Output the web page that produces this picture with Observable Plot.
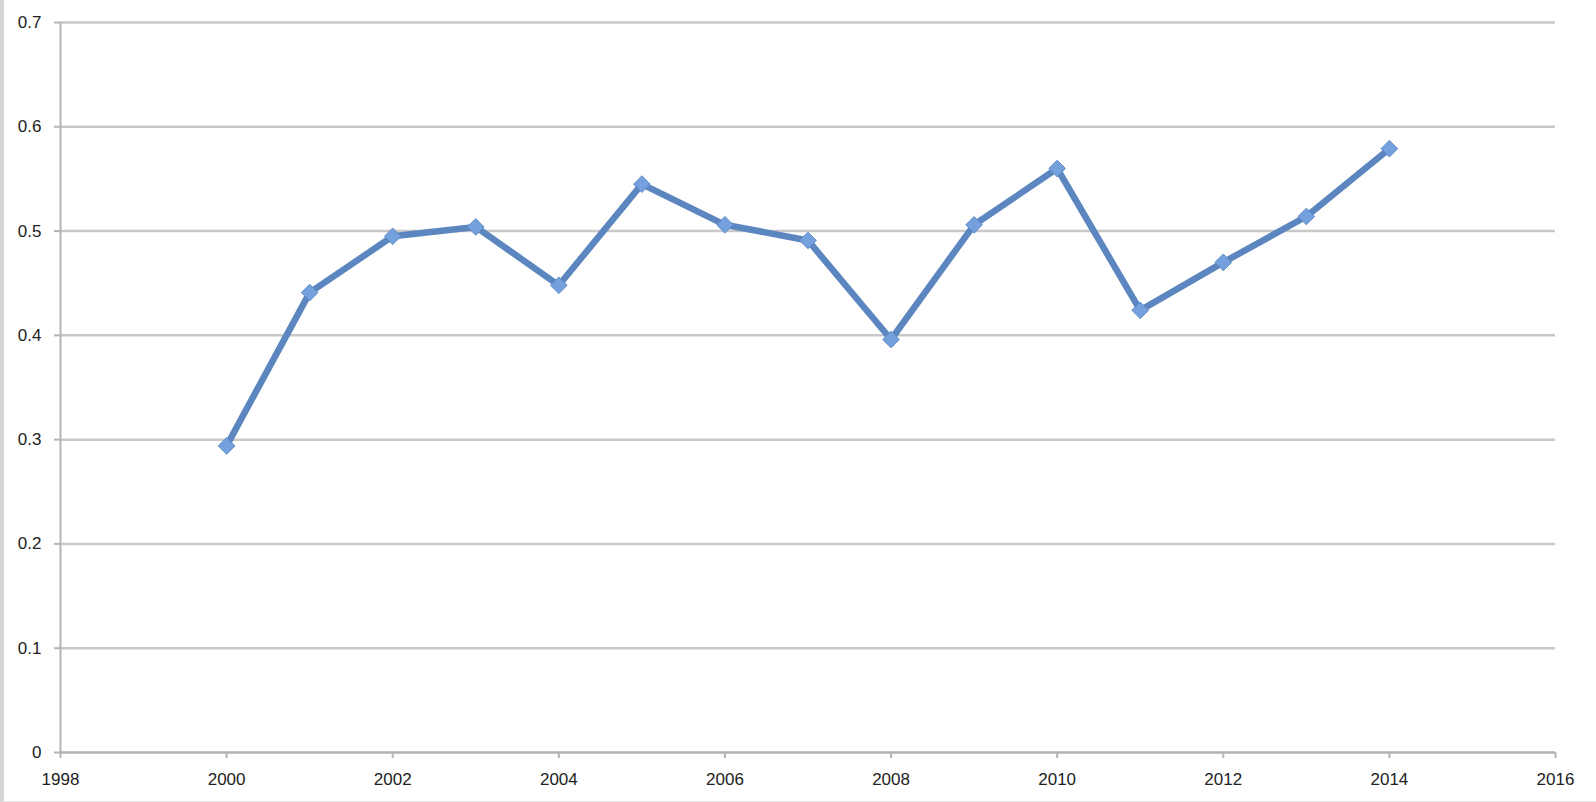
<!DOCTYPE html>
<html>
<head>
<meta charset="utf-8">
<script src="https://cdn.jsdelivr.net/npm/d3@7"></script>
<script src="https://cdn.jsdelivr.net/npm/@observablehq/plot@0.6"></script>
<style>
  html, body { margin: 0; padding: 0; background: #fff; }
  #wrap { width: 1592px; height: 801px; border-left: 4px solid #d4d4d4; border-bottom: 1px solid #e4e4e4; overflow: hidden; }
  svg { display: block; }
</style>
</head>
<body>
<div id="wrap"></div>
<script>
const years = [2000, 2001, 2002, 2003, 2004, 2005, 2006, 2007, 2008, 2009, 2010, 2011, 2012, 2013, 2014];
const values = [0.294, 0.441, 0.495, 0.504, 0.448, 0.545, 0.506, 0.491, 0.396, 0.506, 0.560, 0.424, 0.470, 0.514, 0.579];
const xTicks = [1998, 2000, 2002, 2004, 2006, 2008, 2010, 2012, 2014, 2016];
const yTicks = [0, 0.1, 0.2, 0.3, 0.4, 0.5, 0.6, 0.7];

const data = years.map((year, i) => ({year, value: values[i]}));

const chart = Plot.plot({
  width: 1592,
  height: 801,
  marginLeft: 56,
  marginRight: 41,
  marginTop: 22,
  marginBottom: 49,
  style: {fontFamily: "'Liberation Sans', Arial, sans-serif", fontSize: "17px", color: "#222", background: "#fff"},
  x: {domain: [1998, 2016], ticks: xTicks, tickFormat: d => String(d), label: null},
  y: {domain: [0, 0.7], ticks: yTicks, tickFormat: d => d === 0 ? "0" : d3.format(".1f")(d), label: null},
  marks: [
    Plot.gridY(yTicks, {stroke: "#c8c8c8", strokeOpacity: 1, strokeWidth: 2.5}),
    Plot.ruleX([1998], {stroke: "#b4b4b4", strokeWidth: 2}),
    Plot.ruleY([0], {stroke: "#b4b4b4", strokeWidth: 2}),
    Plot.axisX({ticks: xTicks, tickSize: 6, tickPadding: 14, stroke: "#b4b4b4", strokeWidth: 2, fill: "#222", tickFormat: d => String(d), label: null}),
    Plot.axisY({ticks: yTicks, tickSize: 6, tickPadding: 13, stroke: "#b4b4b4", strokeWidth: 2, fill: "#222", tickFormat: d => d === 0 ? "0" : d3.format(".1f")(d), label: null}),
    Plot.line(data, {x: "year", y: "value", stroke: "#5b86c0", strokeWidth: 6.5, strokeLinejoin: "round"}),
    Plot.dot(data, {x: "year", y: "value", symbol: "diamond2", r: 7.5, fill: "#74a1de", stroke: "#5f8bc6", strokeWidth: 1})
  ]
});
document.getElementById("wrap").appendChild(chart);
</script>
</body>
</html>
